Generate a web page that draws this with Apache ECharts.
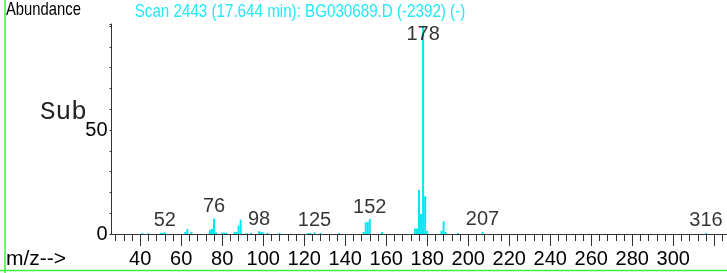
<!DOCTYPE html>
<html>
<head>
<meta charset="utf-8">
<title>Scan 2443 - BG030689.D</title>
<script src="https://cdn.jsdelivr.net/npm/echarts@6/dist/echarts.min.js"></script>
<style>
    html, body { margin: 0; padding: 0; background: #fff; }
    #chart { width: 727px; height: 273px; }
</style>
</head>
<body>
<div id="chart"></div>
<script>
// ---- 谱图数据 ----
var peakMz = [41, 44, 50, 51, 52, 62, 63, 65, 74, 75, 76, 77, 80, 81, 82, 86, 87, 88, 89,
    92, 94, 98, 99, 100, 102, 108, 122, 123, 125, 128, 137,
    149, 150, 151, 152, 158, 174, 175, 176, 177, 178, 179, 180, 187, 188, 189, 195, 207, 316];
var peakAbundance = [0.4, 0.4, 0.6, 0.6, 0.8, 1.0, 2.4, 1.0, 2.0, 2.5, 7.4, 0.8, 0.7, 0.7, 0.6, 1.0, 1.0, 4.0, 6.9,
    0.5, 0.5, 1.3, 1.0, 0.8, 0.5, 0.5, 0.5, 0.5, 0.8, 0.5, 0.5,
    1.0, 5.6, 5.8, 7.2, 1.0, 2.7, 2.7, 21.3, 9.6, 100, 18.1, 1.5, 1.6, 6.1, 1.0, 0.5, 1.0, 0.5];
var labelMz = [52, 76, 98, 125, 152, 178, 207, 316];
var xTickLabels = [40, 60, 80, 100, 120, 140, 160, 180, 200, 220, 240, 260, 280, 300];
var yTickLabels = [0, 50];

(function () {
    'use strict';

    var PLOT_LEFT = 111.5;
    var UNIT_PX = 2.05;          // 每个 m/z 单位的像素宽度
    var PLOT_TOP = 24;
    var PLOT_H = 210;
    var AXIS_COLOR = '#333';
    var PEAK_COLOR = '#00e8f0';
    var FONT = '"Liberation Sans", Arial, sans-serif';
    var MONO = '"Courier New", "Liberation Mono", "DejaVu Sans Mono", monospace';

    function abundanceOf(m) {
        var i = peakMz.indexOf(m);
        return i < 0 ? 0 : peakAbundance[i];
    }

    // 三个网格像素比例一致，只是起止不同，用来画轴线、次刻度和主刻度
    function gridFor(minVal, maxVal) {
        return {
            left: PLOT_LEFT + (minVal - 26) * UNIT_PX,
            top: PLOT_TOP,
            width: (maxVal - minVal) * UNIT_PX,
            height: PLOT_H
        };
    }

    var chart = echarts.init(document.getElementById('chart'));

    chart.setOption({
        animation: false,
        grid: [gridFor(26, 326), gridFor(28, 324), gridFor(40, 320)],
        xAxis: [
            {
                type: 'value', gridIndex: 0, min: 26, max: 326,
                axisLine: { show: true, lineStyle: { color: AXIS_COLOR, width: 1 } },
                axisTick: { show: false }, axisLabel: { show: false }, splitLine: { show: false }
            },
            {
                type: 'value', gridIndex: 1, min: 28, max: 324, interval: 4,
                axisLine: { show: false },
                axisTick: { show: true, length: 7, lineStyle: { color: AXIS_COLOR } },
                axisLabel: { show: false }, splitLine: { show: false }
            },
            {
                type: 'value', gridIndex: 2, min: 40, max: 320, interval: 20,
                axisLine: { show: false },
                axisTick: { show: true, length: 12, lineStyle: { color: AXIS_COLOR } },
                axisLabel: {
                    show: true, margin: 15, color: '#000', fontSize: 20, fontFamily: FONT,
                    showMaxLabel: true,
                    formatter: function (v) { return xTickLabels.indexOf(v) >= 0 ? String(v) : ''; }
                },
                splitLine: { show: false }
            }
        ],
        yAxis: [
            {
                type: 'value', gridIndex: 0, min: 0, max: 101, interval: 10,
                axisLine: { show: true, lineStyle: { color: AXIS_COLOR, width: 1 } },
                axisTick: { show: true, length: 2, lineStyle: { color: AXIS_COLOR } },
                axisLabel: {
                    show: true, margin: 4, color: '#000', fontSize: 20, fontFamily: FONT,
                    formatter: function (v) { return yTickLabels.indexOf(v) >= 0 ? String(v) : ''; }
                },
                splitLine: { show: false }
            },
            { type: 'value', gridIndex: 1, show: false, min: 0, max: 101 },
            { type: 'value', gridIndex: 2, show: false, min: 0, max: 101 }
        ],
        series: [
            {
                name: 'peaks',
                type: 'bar',
                xAxisIndex: 0, yAxisIndex: 0,
                barWidth: 2,
                itemStyle: { color: PEAK_COLOR },
                data: peakMz.map(function (m, i) { return [m, peakAbundance[i]]; })
            },
            {
                // 峰标签，178 的标签被限制在图框内
                name: 'labels',
                type: 'scatter',
                xAxisIndex: 0, yAxisIndex: 0,
                symbolSize: 0,
                label: {
                    show: true, position: 'top', distance: 2,
                    color: '#000', fontSize: 20, fontFamily: FONT,
                    formatter: function (p) { return String(p.value[0]); }
                },
                data: labelMz.map(function (m) { return [m, Math.min(abundanceOf(m), 90)]; })
            }
        ],
        graphic: [
            {
                type: 'text', x: 6, y: 9.5, scaleX: 0.8,
                style: { text: 'Abundance', fontSize: 18.5, fontFamily: FONT, fill: '#000', textVerticalAlign: 'middle' }
            },
            {
                type: 'text', x: 300, y: 11.7, scaleX: 0.82,
                style: {
                    text: 'Scan 2443 (17.644 min): BG030689.D (-2392) (-)',
                    fontSize: 18.5, fontFamily: FONT, fill: '#22e8f8', textAlign: 'center', textVerticalAlign: 'middle'
                }
            },
            {
                type: 'text', x: 40, y: 112,
                style: { text: 'Sub', fontSize: 26, fontFamily: MONO, fill: '#222', textVerticalAlign: 'middle' }
            },
            {
                type: 'text', x: 6, y: 259,
                style: { text: 'm/z-->', fontSize: 21, fontFamily: FONT, fill: '#000', textVerticalAlign: 'middle' }
            },
            // ---- 绿色边框 ----
            {
                type: 'line', shape: { x1: 5, y1: 0, x2: 5, y2: 273 },
                style: { stroke: '#3ef03e', lineWidth: 1.5 }
            },
            {
                type: 'line', shape: { x1: 0, y1: 270.5, x2: 727, y2: 270.5 },
                style: { stroke: '#3ef03e', lineWidth: 1.5 }
            }
        ]
    });
})();
</script>
</body>
</html>
